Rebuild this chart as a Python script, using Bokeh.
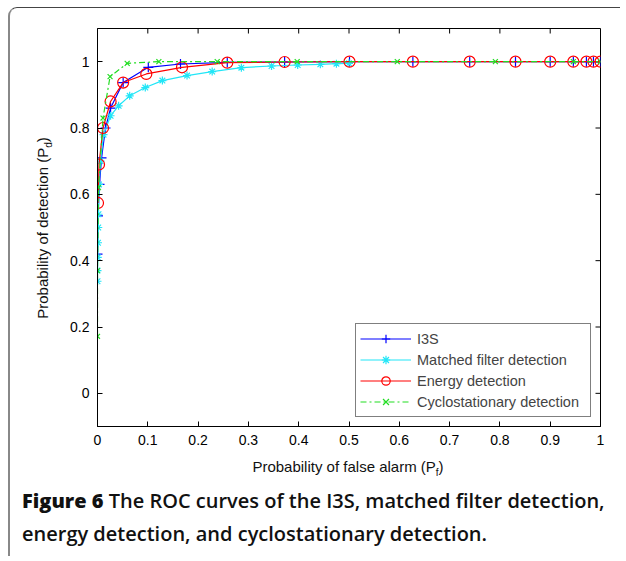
from bokeh.plotting import figure
from bokeh.models import FixedTicker, Div, Range1d
from bokeh.layouts import column, row
from bokeh.embed import file_html
from bokeh.resources import INLINE

# ---- data ----
i3s_pf = [0.0, 0.001, 0.004, 0.008, 0.016, 0.026, 0.051, 0.101, 0.165, 0.258,
          0.372, 0.501, 0.627, 0.740, 0.831, 0.900, 0.946, 0.972, 0.986, 1.0]
i3s_pd = [0.42, 0.535, 0.63, 0.71, 0.80, 0.86, 0.937, 0.983, 0.993, 0.998,
          0.999, 1.0, 1.0, 1.0, 1.0, 1.0, 1.0, 1.0, 1.0, 1.0]

mf_pf = [0.0, 0.0, 0.0005, 0.001, 0.0015, 0.002, 0.003, 0.006, 0.012, 0.026,
         0.042, 0.064, 0.095, 0.129, 0.178, 0.228, 0.286, 0.346, 0.398, 0.443,
         0.475, 0.5]
mf_pd = [0.338, 0.37, 0.41, 0.454, 0.5, 0.54, 0.63, 0.70, 0.78, 0.837,
         0.867, 0.897, 0.922, 0.943, 0.958, 0.970, 0.982, 0.987, 0.990, 0.992,
         0.994, 0.995]

ed_pf = [0.001, 0.003, 0.011, 0.026, 0.051, 0.097, 0.168, 0.258, 0.372, 0.501,
         0.627, 0.740, 0.831, 0.900, 0.946, 0.972, 0.986, 1.0]
ed_pd = [0.574, 0.69, 0.80, 0.88, 0.937, 0.963, 0.983, 0.997, 0.999, 1.0,
         1.0, 1.0, 1.0, 1.0, 1.0, 1.0, 1.0, 1.0]

cs_pf = [0.0, 0.0, 0.002, 0.011, 0.025, 0.059, 0.122, 0.238, 0.397, 0.596,
         0.791, 0.946, 1.0]
cs_pd = [0.172, 0.37, 0.62, 0.83, 0.955, 0.995, 1.0, 1.0, 1.0, 1.0,
         1.0, 1.0, 1.0]

x_tick_values = [0, 0.1, 0.2, 0.3, 0.4, 0.5, 0.6, 0.7, 0.8, 0.9, 1.0]
x_tick_labels = ["0", "0.1", "0.2", "0.3", "0.4", "0.5", "0.6", "0.7", "0.8", "0.9", "1"]
y_tick_values = [0, 0.2, 0.4, 0.6, 0.8, 1.0]
y_tick_labels = ["0", "0.2", "0.4", "0.6", "0.8", "1"]

series_names = ["I3S", "Matched filter detection", "Energy detection", "Cyclostationary detection"]

X_MIN, X_MAX = 0.0, 1.0
Y_MIN, Y_MAX = -0.1, 1.1

FONT = "Liberation Sans"

FRAME_W, FRAME_H = 503, 398
p = figure(width=37 + FRAME_W + 20, height=20 + FRAME_H + 30,
           x_range=Range1d(X_MIN, X_MAX), y_range=Range1d(Y_MIN, Y_MAX),
           output_backend="svg", toolbar_location=None,
           min_border_left=37, min_border_right=20, min_border_top=20, min_border_bottom=30)
p.grid.visible = False
p.outline_line_color = "black"
p.outline_line_width = 1
p.background_fill_color = "white"
p.border_fill_color = "white"

p.xaxis.ticker = FixedTicker(ticks=x_tick_values)
p.xaxis.major_label_overrides = dict(zip(x_tick_values, x_tick_labels))
p.yaxis.ticker = FixedTicker(ticks=y_tick_values)
p.yaxis.major_label_overrides = dict(zip(y_tick_values, y_tick_labels))
for ax in list(p.xaxis) + list(p.yaxis):
    ax.axis_line_color = "black"
    ax.major_tick_line_color = "black"
    ax.major_tick_in = 5
    ax.major_tick_out = 0
    ax.minor_tick_line_color = None
    ax.major_label_text_font = FONT
    ax.major_label_text_font_size = "14px"
    ax.major_label_text_color = "black"
    ax.major_label_standoff = 8

# mirrored inward ticks on the top and right edges (MATLAB box style)
tick_dy = 5 * (Y_MAX - Y_MIN) / FRAME_H
tick_dx = 5 * (X_MAX - X_MIN) / FRAME_W
p.segment(x0=x_tick_values, y0=[Y_MAX] * len(x_tick_values),
          x1=x_tick_values, y1=[Y_MAX - tick_dy] * len(x_tick_values),
          line_color="black", line_width=1)
p.segment(x0=[X_MAX] * len(y_tick_values), y0=y_tick_values,
          x1=[X_MAX - tick_dx] * len(y_tick_values), y1=y_tick_values,
          line_color="black", line_width=1)

# series
p.line(i3s_pf, i3s_pd, color="#0000ff", line_width=1.2, legend_label=series_names[0])
p.scatter(i3s_pf, i3s_pd, marker="cross", size=10, line_color="#0000ff", line_width=1.2,
          legend_label=series_names[0])

p.line(mf_pf, mf_pd, color="#22e6f7", line_width=1.2, legend_label=series_names[1])
p.scatter(mf_pf, mf_pd, marker="asterisk", size=8, line_color="#22e6f7", line_width=1.2,
          legend_label=series_names[1])

p.line(ed_pf, ed_pd, color="#ff0000", line_width=1.2, legend_label=series_names[2])
p.scatter(ed_pf, ed_pd, marker="circle", size=11, line_color="#ff0000", fill_color=None,
          line_width=1.2, legend_label=series_names[2])

p.line(cs_pf, cs_pd, color="#22dd22", line_width=1.2, line_dash="6 3 2 3",
       legend_label=series_names[3])
p.scatter(cs_pf, cs_pd, marker="x", size=7, line_color="#22dd22", line_width=1.2,
          legend_label=series_names[3])

lg = p.legend[0]
lg.location = "bottom_right"
lg.margin = 9
lg.padding = 4
lg.spacing = 0
lg.border_line_color = "black"
lg.border_line_width = 1
lg.background_fill_alpha = 1
lg.label_text_font = FONT
lg.label_text_font_size = "14.5px"
lg.label_height = 21
lg.glyph_height = 21
lg.glyph_width = 51
lg.label_standoff = 6
lg.label_width = 169

# axis titles (with subscripts) as HTML text
ylab = Div(
    text='<div style="position:absolute; left:34px; top:220px; white-space:nowrap; '
         'transform:translate(-50%,-50%) rotate(-90deg); font-family:\'Liberation Sans\'; '
         'font-size:15px; color:#111;">Probability of detection (P<sub style="font-size:10px">d</sub>)</div>',
    width=50, height=20 + FRAME_H + 30, margin=0, styles={"position": "relative"})

xlab = Div(
    text='<div style="position:absolute; left:338px; top:12px; white-space:nowrap; '
         'transform:translate(-50%,-50%); font-family:\'Liberation Sans\'; '
         'font-size:15px; color:#111;">Probability of false alarm (P<sub style="font-size:10px">f</sub>)</div>',
    width=610, height=24, margin=0, styles={"position": "relative"})

caption = Div(
    text='<span style="font-weight:800">Figure 6</span> The ROC curves of the I3S, matched filter detection,'
         '<br>energy detection, and cyclostationary detection.',
    width=610, height=76, margin=0,
    styles={"font-family": "'Open Sans'", "font-size": "20px", "font-weight": "600",
            "line-height": "33px", "padding-left": "12px", "padding-top": "4px",
            "color": "#111111", "white-space": "nowrap"})

layout = column(row(ylab, p), xlab, caption,
                styles={"border-top": "1px solid #444444",
                        "border-left": "2px solid #888888",
                        "border-top-left-radius": "9px",
                        "margin-left": "8px", "margin-top": "7px",
                        "background": "white"})

open("out.html", "w").write(file_html(layout, INLINE))
